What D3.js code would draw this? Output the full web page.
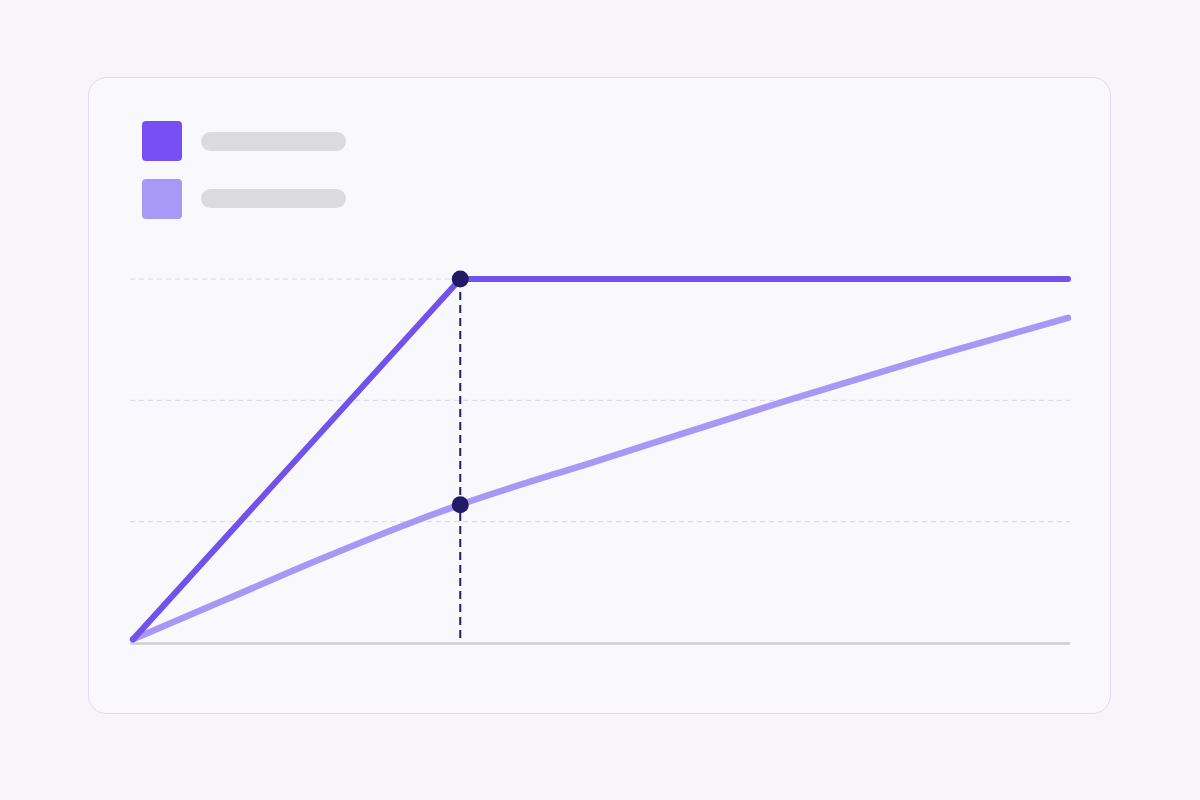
<!DOCTYPE html>
<html>
<head>
<meta charset="utf-8">
<script src="https://cdn.jsdelivr.net/npm/d3@7"></script>
<style>
  html, body { margin: 0; padding: 0; background: #f8f4fa; }
  svg { display: block; }
</style>
</head>
<body>
<div id="chart"></div>
<script>
// series data (x = time units, y = value units)
const darkX  = [0, 35, 100];
const darkY  = [3, 300, 300];
const lightX = [0, 10, 20, 30, 35, 50, 70, 85, 100];
const lightY = [3, 36, 69, 100, 114, 151, 200, 235, 268];
const gridTicks = [100, 200, 300];
const markerX = 35;
const legendColors = ['#7650f4', '#a899f7'];

const W = 1200, H = 800;
const svg = d3.select('#chart').append('svg')
  .attr('width', W)
  .attr('height', H);

svg.append('rect')
  .attr('width', W).attr('height', H)
  .attr('fill', '#f8f4fa');

// card
svg.append('rect')
  .attr('x', 88.5).attr('y', 77.5)
  .attr('width', 1022).attr('height', 636)
  .attr('rx', 18)
  .attr('fill', '#f9f8fc')
  .attr('stroke', '#e2d9f6')
  .attr('stroke-width', 1);

// legend (placeholder labels)
const legend = svg.append('g');
legend.selectAll('rect.swatch')
  .data(legendColors)
  .enter()
  .append('rect')
    .attr('class', 'swatch')
    .attr('x', 142)
    .attr('y', (d, i) => 121 + i * 58)
    .attr('width', 40).attr('height', 40)
    .attr('rx', 4)
    .attr('fill', d => d);

legend.selectAll('rect.label')
  .data(legendColors)
  .enter()
  .append('rect')
    .attr('class', 'label')
    .attr('x', 201)
    .attr('y', (d, i) => 132 + i * 57)
    .attr('width', 145).attr('height', 19)
    .attr('rx', 9.5)
    .attr('fill', '#dbdadf');

const x = d3.scaleLinear().domain([0, 100]).range([133, 1068]);
const y = d3.scaleLinear().domain([0, 300]).range([643, 279]);

// dashed grid
svg.append('g')
  .selectAll('line')
  .data(gridTicks)
  .enter()
  .append('line')
    .attr('x1', 130).attr('x2', 1070)
    .attr('y1', d => y(d)).attr('y2', d => y(d))
    .attr('stroke', '#dcd4f4')
    .attr('stroke-width', 1)
    .attr('stroke-dasharray', '5,4');

// baseline
svg.append('line')
  .attr('x1', 130).attr('x2', 1070)
  .attr('y1', y(0) + 0.5).attr('y2', y(0) + 0.5)
  .attr('stroke', '#cfcdd3')
  .attr('stroke-width', 2.5);

// vertical marker
svg.append('line')
  .attr('x1', x(markerX)).attr('x2', x(markerX))
  .attr('y1', y(300)).attr('y2', y(0) - 2)
  .attr('stroke', '#261b6b')
  .attr('stroke-width', 2)
  .attr('stroke-dasharray', '8,5');

const darkData  = darkX.map((d, i) => [d, darkY[i]]);
const lightData = lightX.map((d, i) => [d, lightY[i]]);

const line = d3.line()
  .x(d => x(d[0]))
  .y(d => y(d[1]));

svg.append('path')
  .datum(lightData)
  .attr('d', line.curve(d3.curveMonotoneX))
  .attr('fill', 'none')
  .attr('stroke', '#a897f5')
  .attr('stroke-width', 6.5)
  .attr('stroke-linecap', 'round');

svg.append('path')
  .datum(darkData)
  .attr('d', d3.line().x(d => x(d[0])).y(d => y(d[1])))
  .attr('fill', 'none')
  .attr('stroke', '#7152ea')
  .attr('stroke-width', 6)
  .attr('stroke-linecap', 'round')
  .attr('stroke-linejoin', 'round');

// intersection dots
const lightAtMarker = lightY[lightX.indexOf(markerX)];
const darkAtMarker  = darkY[darkX.indexOf(markerX)];
svg.append('g')
  .selectAll('circle')
  .data([darkAtMarker, lightAtMarker])
  .enter()
  .append('circle')
    .attr('cx', x(markerX))
    .attr('cy', d => y(d))
    .attr('r', 8.5)
    .attr('fill', '#231a67');
</script>
</body>
</html>
